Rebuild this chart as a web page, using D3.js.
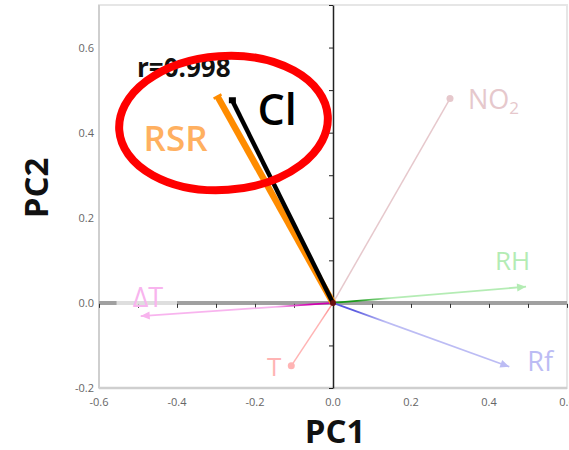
<!DOCTYPE html>
<html>
<head>
<meta charset="utf-8">
<script src="https://cdn.jsdelivr.net/npm/d3@7"></script>
<style>
  body { margin: 0; background: #fff; }
  text { font-family: "Open Sans", "Liberation Sans", sans-serif; }
</style>
</head>
<body>
<script>
// loadings
const variables = ["NO2", "T", "RH", "Rf", "ΔT", "RSR", "Cl"];
const pc1 = [0.30, -0.107, 0.495, 0.452, -0.493, -0.296, -0.258];
const pc2 = [0.48, -0.148, 0.038, -0.15, -0.031, 0.485, 0.475];
const xTicks = [-0.6, -0.4, -0.2, 0.0, 0.2, 0.4, 0.6];
const yTicks = [-0.2, 0.0, 0.2, 0.4, 0.6];
const corrLabel = "r=0.998";

const w = 569, h = 450;
const x = d3.scaleLinear().domain([-0.6, 0.6]).range([99, 567]);
const y = d3.scaleLinear().domain([-0.2, 0.7]).range([388, 5]);

const svg = d3.select("body").append("svg")
  .attr("width", w).attr("height", h);

// style per variable
const style = {
  "NO2": {light: "#e6c8cc", dark: "#e6c8cc", width: 1.5, end: "dot"},
  "T":   {light: "#ffb4b4", dark: "#ff9a9a", width: 1.5, end: "dot"},
  "RH":  {light: "#b4ecb4", dark: "#1a9a1a", width: 1.8, end: "arrow"},
  "Rf":  {light: "#bcbcf4", dark: "#5a5ae0", width: 1.8, end: "arrow"},
  "ΔT":  {light: "#f8b4ee", dark: "#d000b0", width: 1.8, end: "arrow"},
  "RSR": {light: "#ff8c00", dark: "#ff8c00", width: 6.5, end: "tick"},
  "Cl":  {light: "#000", dark: "#000", width: 4.5, end: "square"}
};

// frame
svg.append("rect")
  .attr("x", x(-0.6)).attr("y", y(0.7))
  .attr("width", x(0.6) - x(-0.6)).attr("height", y(-0.2) - y(0.7))
  .attr("fill", "none").attr("stroke", "#e6e6e6").attr("stroke-width", 2);
svg.append("line")
  .attr("x1", x(-0.6)).attr("x2", x(-0.6)).attr("y1", y(0.7)).attr("y2", y(-0.2))
  .attr("stroke", "#cfcfcf").attr("stroke-width", 2);
svg.append("line")
  .attr("x1", x(-0.6)).attr("x2", x(0.6)).attr("y1", y(-0.2)).attr("y2", y(-0.2))
  .attr("stroke", "#cfcfcf").attr("stroke-width", 2.5);

// tick labels
svg.append("g").selectAll("text").data(xTicks).enter().append("text")
  .attr("x", d => x(d)).attr("y", y(-0.2) + 18)
  .attr("text-anchor", "middle")
  .attr("font-size", 11).attr("fill", "#666")
  .text(d => d3.format(".1f")(d).replace("−", "-"));
svg.append("g").selectAll("text").data(yTicks).enter().append("text")
  .attr("x", x(-0.6) - 5).attr("y", d => y(d) + 4)
  .attr("text-anchor", "end")
  .attr("font-size", 11).attr("fill", "#666")
  .text(d => d3.format(".1f")(d).replace("−", "-"));

// horizontal zero axis (grey, thick) with minor ticks
svg.append("line")
  .attr("x1", x(-0.6)).attr("x2", x(0.6)).attr("y1", y(0)).attr("y2", y(0))
  .attr("stroke", "#a0a0a0").attr("stroke-width", 4);
const hAxis = d3.axisBottom(x).tickValues(d3.range(-6, 7).map(d => d / 10))
  .tickSize(4).tickFormat("");
svg.append("g").attr("transform", `translate(0,${y(0) + 1})`).call(hAxis)
  .call(g => g.select(".domain").remove())
  .call(g => g.selectAll("line").attr("stroke", "#333"));

// vertical zero axis with minor ticks
const vAxis = d3.axisLeft(y).tickValues(d3.range(-2, 8).map(d => d / 10))
  .tickSize(4).tickSizeOuter(0).tickFormat("");
svg.append("g").attr("transform", `translate(${x(0)},0)`).call(vAxis)
  .call(g => g.select(".domain").attr("stroke", "#222").attr("stroke-width", 1.5))
  .call(g => g.selectAll("line").attr("stroke", "#222"));

// ΔT label backdrop over the axis
svg.append("rect")
  .attr("x", x(-0.555)).attr("y", y(0) - 4)
  .attr("width", x(-0.4) - x(-0.555)).attr("height", 7)
  .attr("fill", "#fff").attr("opacity", 0.65);

// gradients: dark near origin fading to light at tip
const defs = svg.append("defs");
variables.forEach((v, i) => {
  const s = style[v];
  const g = defs.append("linearGradient")
    .attr("id", "grad" + i).attr("gradientUnits", "userSpaceOnUse")
    .attr("x1", x(0)).attr("y1", y(0))
    .attr("x2", x(pc1[i])).attr("y2", y(pc2[i]));
  g.append("stop").attr("offset", 0).attr("stop-color", s.dark);
  g.append("stop").attr("offset", 0.12).attr("stop-color", s.dark);
  g.append("stop").attr("offset", 0.3).attr("stop-color", s.light);
  g.append("stop").attr("offset", 1).attr("stop-color", s.light);
});

// vectors
const vec = svg.append("g");
variables.forEach((v, i) => {
  const s = style[v];
  const x2 = x(pc1[i]), y2 = y(pc2[i]);
  vec.append("line")
    .attr("x1", x(0)).attr("y1", y(0)).attr("x2", x2).attr("y2", y2)
    .attr("stroke", `url(#grad${i})`).attr("stroke-width", s.width)
    .attr("stroke-linecap", "butt");
  const ang = Math.atan2(y2 - y(0), x2 - x(0));
  if (s.end === "dot") {
    vec.append("circle").attr("cx", x2).attr("cy", y2).attr("r", 3.5).attr("fill", s.light);
  } else if (s.end === "arrow") {
    const L = 9, W = 4;
    const p = [
      [x2, y2],
      [x2 - L * Math.cos(ang) + W * Math.sin(ang), y2 - L * Math.sin(ang) - W * Math.cos(ang)],
      [x2 - L * Math.cos(ang) - W * Math.sin(ang), y2 - L * Math.sin(ang) + W * Math.cos(ang)]
    ];
    vec.append("path").attr("d", d3.line()(p) + "Z").attr("fill", s.light);
  } else if (s.end === "square") {
    vec.append("rect").attr("x", x2 - 3.5).attr("y", y2 - 3.5)
      .attr("width", 7).attr("height", 6).attr("fill", s.light);
  } else {
    const W = 4.5;
    vec.append("line")
      .attr("x1", x2 + W * Math.sin(ang)).attr("y1", y2 - W * Math.cos(ang))
      .attr("x2", x2 - W * Math.sin(ang)).attr("y2", y2 + W * Math.cos(ang))
      .attr("stroke", s.light).attr("stroke-width", 2.5);
  }
});
// origin blob
svg.append("circle").attr("cx", x(0)).attr("cy", y(0)).attr("r", 3).attr("fill", "#6a1010");

// variable labels
const lbl = svg.append("g");
const labelPos = {
  "NO2": [18, 10, 27, "#e6c8cc", 400, "start"],
  "T":   [-10, 10, 26, "#ffb4b4", 400, "end"],
  "RH":  [-31, -17, 26, "#b4ecb4", 400, "start"],
  "Rf":  [18, 4, 27, "#bcbcf4", 400, "start"],
  "ΔT":  [-8, -9, 27, "#f8b4ee", 400, "start"],
  "RSR": [-74, 55, 35, "#ffb060", 600, "start"],
  "Cl":  [25, 24, 43, "#000", 600, "start"]
};
variables.forEach((v, i) => {
  const p = labelPos[v];
  const t = lbl.append("text")
    .attr("x", x(pc1[i]) + p[0]).attr("y", y(pc2[i]) + p[1])
    .attr("font-size", p[2]).attr("fill", p[3]).attr("font-weight", p[4])
    .attr("text-anchor", p[5]);
  if (v === "NO2") {
    t.append("tspan").text("NO");
    t.append("tspan").attr("font-size", 17).attr("dy", 5).text("2");
  } else {
    t.text(v);
  }
});

// correlation note and highlight ellipse
svg.append("text")
  .attr("x", 137).attr("y", 77)
  .attr("font-size", 26).attr("font-weight", 700).attr("fill", "#111")
  .text(corrLabel);
svg.append("ellipse")
  .attr("transform", "translate(223.5,123) rotate(-4)")
  .attr("rx", 104.5).attr("ry", 67)
  .attr("fill", "none").attr("stroke", "#f00").attr("stroke-width", 8);

// axis titles
svg.append("text")
  .attr("x", x(0) + 2).attr("y", 443)
  .attr("text-anchor", "middle")
  .attr("font-size", 33).attr("font-weight", 700).attr("fill", "#111")
  .text("PC1");
svg.append("text")
  .attr("transform", `translate(48,${y(0.27)}) rotate(-90)`)
  .attr("text-anchor", "middle")
  .attr("font-size", 33).attr("font-weight", 700).attr("fill", "#111")
  .text("PC2");
</script>
</body>
</html>
